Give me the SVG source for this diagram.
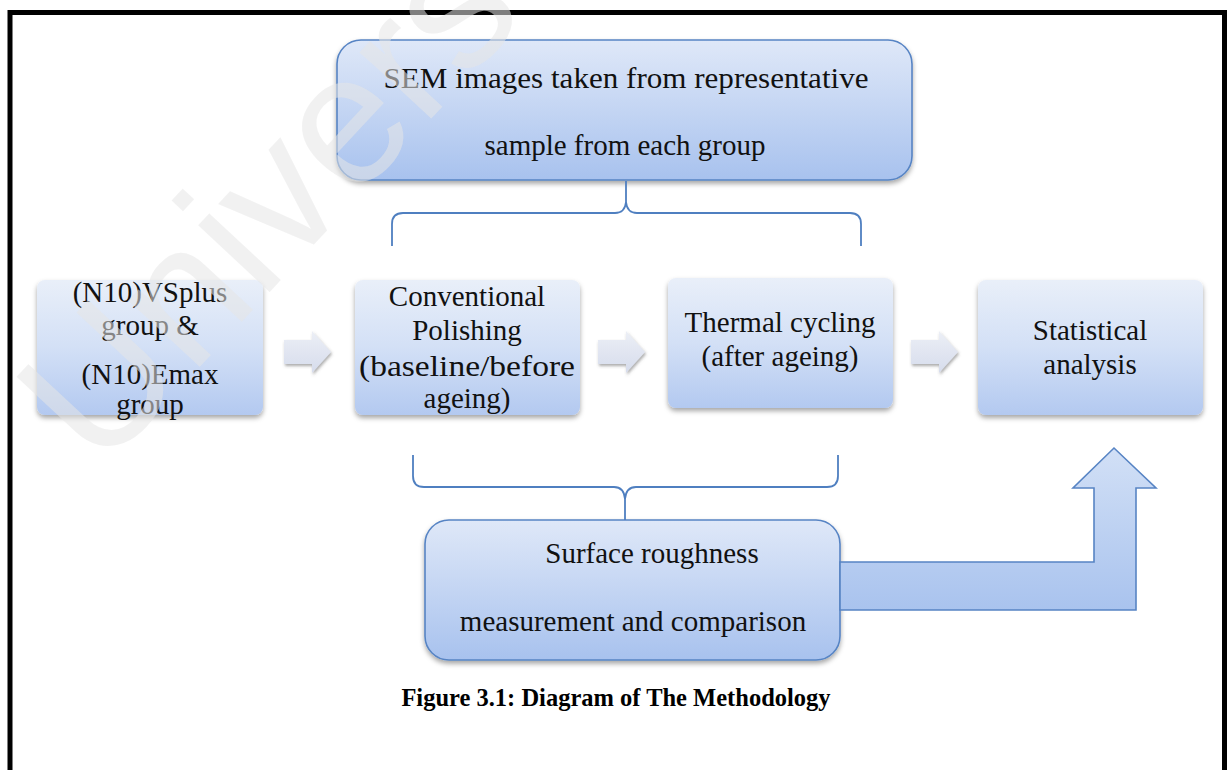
<svg xmlns="http://www.w3.org/2000/svg" width="1232" height="770" viewBox="0 0 1232 770">
<defs>
<linearGradient id="gBig" x1="0" y1="0" x2="0" y2="1">
<stop offset="0" stop-color="#dfe8f8"/>
<stop offset="1" stop-color="#a8c2ee"/>
</linearGradient>
<linearGradient id="gBox" x1="0" y1="0" x2="0" y2="1">
<stop offset="0" stop-color="#e9eff9"/>
<stop offset="0.5" stop-color="#d3e0f6"/>
<stop offset="1" stop-color="#b3c9f0"/>
</linearGradient>
<linearGradient id="gArrow" x1="0" y1="0" x2="0" y2="1">
<stop offset="0" stop-color="#eceff6"/>
<stop offset="1" stop-color="#d6dcec"/>
</linearGradient>
<linearGradient id="gL" x1="0" y1="0" x2="0" y2="1">
<stop offset="0" stop-color="#d2e0f6"/>
<stop offset="1" stop-color="#a9c3ee"/>
</linearGradient>
<filter id="sh" x="-10%" y="-10%" width="120%" height="130%">
<feDropShadow dx="0" dy="3" stdDeviation="2.5" flood-color="#000" flood-opacity="0.35"/>
</filter>
<filter id="shs" x="-20%" y="-20%" width="150%" height="160%">
<feDropShadow dx="1" dy="2" stdDeviation="1.5" flood-color="#555" flood-opacity="0.5"/>
</filter>
<style>
.t{font-family:"Liberation Serif","Times New Roman",serif;font-size:29px;fill:#111;text-anchor:middle}
.big{fill:url(#gBig);stroke:#5784c4;stroke-width:1.6;filter:url(#sh)}
.box{fill:url(#gBox);filter:url(#sh)}
.sa{fill:url(#gArrow);filter:url(#shs)}
.br{fill:none;stroke:#4f7fc0;stroke-width:1.8}
</style>
</defs>
<rect x="0" y="0" width="1232" height="770" fill="#fff"/>
<rect x="10" y="12.5" width="1214.5" height="800" fill="none" stroke="#000" stroke-width="5"/>

<g id="node-sem">
<rect class="big" x="337" y="40" width="575" height="140" rx="24"/>
<text class="t" x="626" y="88" font-size="30" textLength="485" lengthAdjust="spacingAndGlyphs">SEM images taken from representative</text>
<text class="t" x="625" y="155" font-size="30">sample from each group</text>
</g>

<g id="node-groups">
<rect class="box" x="37" y="280" width="226" height="135" rx="8"/>
<text class="t" x="150" y="302">(N10)VSplus</text>
<text class="t" x="150" y="335">group &amp;</text>
<text class="t" x="150" y="384">(N10)Emax</text>
<text class="t" x="150" y="414">group</text>
</g>

<g id="node-polishing">
<rect class="box" x="355" y="280" width="225" height="135" rx="8"/>
<text class="t" x="467" y="306">Conventional</text>
<text class="t" x="467" y="340">Polishing</text>
<text class="t" x="467" y="376" textLength="216" lengthAdjust="spacingAndGlyphs">(baseline/before</text>
<text class="t" x="467" y="408">ageing)</text>
</g>

<g id="node-thermal">
<rect class="box" x="668" y="278" width="225" height="130" rx="8"/>
<text class="t" x="780" y="332">Thermal cycling</text>
<text class="t" x="780" y="366">(after ageing)</text>
</g>

<g id="node-stats">
<rect class="box" x="978" y="280" width="225" height="135" rx="8"/>
<text class="t" x="1090" y="340">Statistical</text>
<text class="t" x="1090" y="374">analysis</text>
</g>

<g id="node-surface">
<rect class="big" x="425" y="520" width="415" height="140" rx="24"/>
<text class="t" x="652" y="563">Surface roughness</text>
<text class="t" x="633" y="631">measurement and comparison</text>
</g>

<g id="connectors">
<path class="sa" d="M284,340 H312 V331 L331,352 L312,373 V364 H284 Z"/>
<path class="sa" d="M598,340 H626 V331 L645,352 L626,373 V364 H598 Z"/>
<path class="sa" d="M911,340 H939 V331 L958,352 L939,373 V364 H911 Z"/>
<path class="br" d="M392,246 L392,224 Q392,213 403,213 L615,213 Q625,213 626,202 Q627,213 637,213 L850,213 Q861,213 861,224 L861,246 M626,202 L626,181"/>
<path class="br" d="M413,455 L413,476 Q413,487 424,487 L614,487 Q624,487 625,499 Q626,487 636,487 L827,487 Q838,487 838,476 L838,455 M625,499 L625,520"/>
<path d="M840,562 H1094 V488 H1073 L1114,448 L1156,488 H1136 V610 H840 Z" fill="url(#gL)" stroke="#5784c4" stroke-width="1.6"/>
</g>

<text x="616" y="706" font-family="Liberation Serif, Times New Roman, serif" font-size="24.5" font-weight="bold" fill="#000" text-anchor="middle">Figure 3.1: Diagram of The Methodology</text>

<text x="100" y="474" transform="rotate(-47 100 474)" font-family="Liberation Sans, Arial, sans-serif" font-size="185" fill="#e6e6e6" fill-opacity="0.55">Univers</text>
</svg>
